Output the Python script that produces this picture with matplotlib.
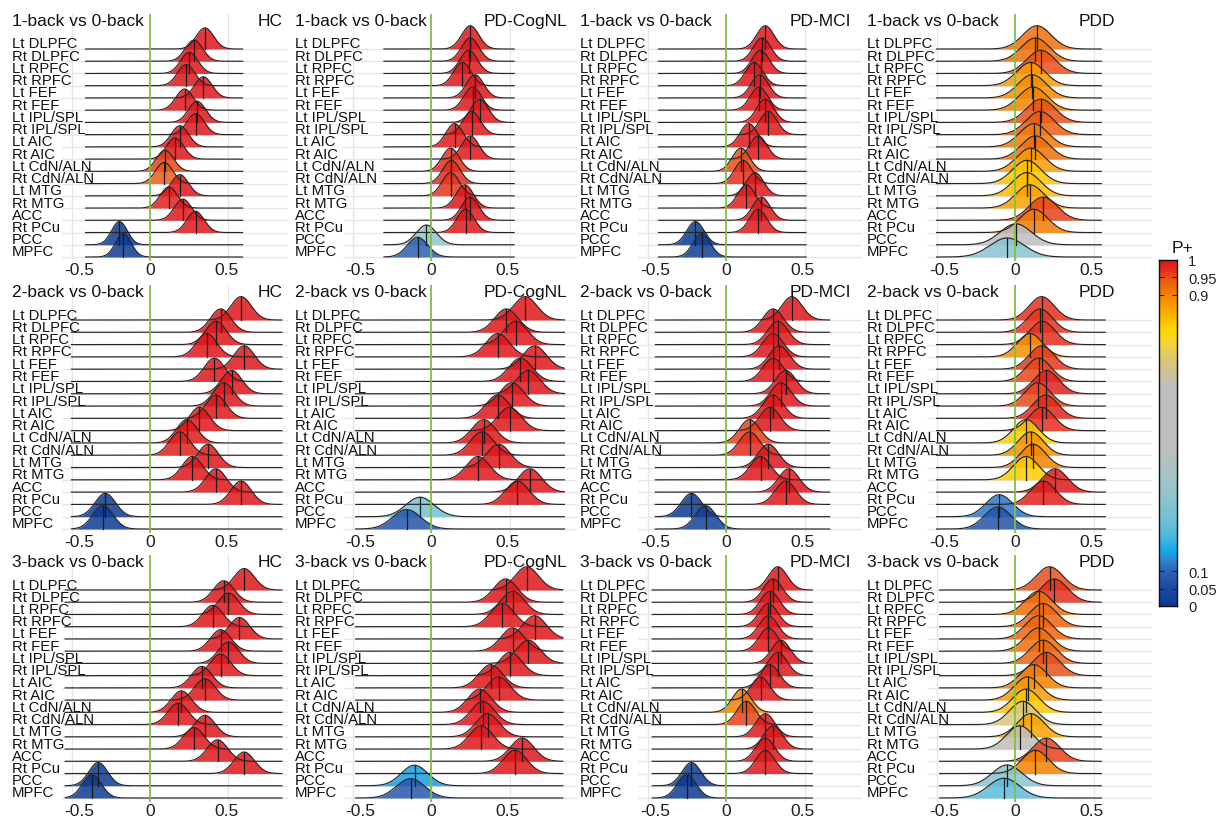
import numpy as np
import matplotlib
matplotlib.use("Agg")
import matplotlib.pyplot as plt
import matplotlib.transforms as mtrans
from matplotlib.colors import LinearSegmentedColormap

plt.rcParams['font.family'] = ['Liberation Sans', 'DejaVu Sans']
plt.rcParams['axes.unicode_minus'] = False

REGIONS = ["Lt DLPFC", "Rt DLPFC", "Lt RPFC", "Rt RPFC", "Lt FEF", "Rt FEF",
           "Lt IPL/SPL", "Rt IPL/SPL", "Lt AIC", "Rt AIC", "Lt CdN/ALN", "Rt CdN/ALN",
           "Lt MTG", "Rt MTG", "ACC", "Rt PCu", "PCC", "MPFC"]
GROUPS = ["HC", "PD-CogNL", "PD-MCI", "PDD"]
CONTRASTS = ["1-back vs 0-back", "2-back vs 0-back", "3-back vs 0-back"]

# posterior centre, spread and P(effect > 0) per region
MU_HC_1 = [0.35, 0.28, 0.25, 0.23, 0.34, 0.22, 0.30, 0.29, 0.19, 0.16, 0.095, 0.09, 0.19, 0.12, 0.21, 0.29, -0.195, -0.17]
SD_HC_1 = [0.055, 0.055, 0.055, 0.055, 0.055, 0.055, 0.055, 0.055, 0.055, 0.055, 0.055, 0.055, 0.055, 0.055, 0.055, 0.055, 0.05, 0.05]
P_HC_1 = [1, 1, 1, 1, 1, 1, 1, 1, 1, 0.999, 0.96, 0.94, 1, 0.985, 1, 1, 0, 0]

MU_COG_1 = [0.25, 0.25, 0.24, 0.20, 0.28, 0.265, 0.31, 0.26, 0.15, 0.25, 0.125, 0.13, 0.125, 0.215, 0.25, 0.22, -0.03, -0.085]
SD_COG_1 = [0.055, 0.055, 0.055, 0.055, 0.055, 0.055, 0.055, 0.055, 0.055, 0.055, 0.055, 0.055, 0.055, 0.055, 0.055, 0.055, 0.065, 0.065]
P_COG_1 = [1, 1, 1, 1, 1, 1, 1, 1, 0.995, 1, 0.97, 0.975, 0.965, 1, 1, 1, 0.33, 0.09]

MU_MCI_1 = [0.25, 0.23, 0.22, 0.18, 0.215, 0.21, 0.25, 0.27, 0.145, 0.205, 0.095, 0.11, 0.185, 0.13, 0.225, 0.205, -0.195, -0.155]
SD_MCI_1 = [0.055, 0.055, 0.055, 0.055, 0.055, 0.055, 0.055, 0.055, 0.055, 0.055, 0.055, 0.055, 0.055, 0.055, 0.055, 0.055, 0.055, 0.055]
P_MCI_1 = [1, 1, 1, 1, 1, 1, 1, 1, 0.995, 1, 0.95, 0.97, 1, 0.99, 1, 1, 0, 0.01]

MU_PDD_1 = [0.14, 0.13, 0.165, 0.10, 0.11, 0.115, 0.165, 0.16, 0.12, 0.13, 0.10, 0.075, 0.075, 0.095, 0.18, 0.12, 0.005, -0.05]
SD_PDD_1 = [0.09, 0.09, 0.09, 0.09, 0.09, 0.09, 0.09, 0.09, 0.09, 0.09, 0.09, 0.09, 0.09, 0.09, 0.09, 0.09, 0.10, 0.11]
P_PDD_1 = [0.92, 0.92, 0.95, 0.87, 0.89, 0.90, 0.95, 0.94, 0.91, 0.92, 0.87, 0.82, 0.83, 0.86, 0.96, 0.91, 0.52, 0.30]

MU_HC_2 = [0.58, 0.45, 0.42, 0.36, 0.60, 0.41, 0.52, 0.47, 0.42, 0.315, 0.235, 0.19, 0.37, 0.27, 0.42, 0.58, -0.285, -0.30]
SD_HC_2 = [0.065, 0.065, 0.065, 0.065, 0.065, 0.065, 0.065, 0.065, 0.065, 0.065, 0.065, 0.065, 0.065, 0.065, 0.065, 0.065, 0.065, 0.065]
P_HC_2 = [1, 1, 1, 1, 1, 1, 1, 1, 1, 1, 0.995, 0.985, 1, 1, 1, 1, 0, 0]

MU_COG_2 = [0.60, 0.48, 0.54, 0.425, 0.66, 0.57, 0.62, 0.515, 0.425, 0.50, 0.335, 0.325, 0.43, 0.30, 0.63, 0.55, -0.07, -0.155]
SD_COG_2 = [0.075, 0.075, 0.075, 0.075, 0.075, 0.075, 0.075, 0.075, 0.075, 0.075, 0.075, 0.075, 0.075, 0.075, 0.075, 0.075, 0.09, 0.09]
P_COG_2 = [1, 1, 1, 1, 1, 1, 1, 1, 1, 1, 1, 1, 1, 1, 1, 1, 0.25, 0.07]

MU_MCI_2 = [0.42, 0.30, 0.33, 0.30, 0.34, 0.30, 0.38, 0.35, 0.30, 0.28, 0.15, 0.15, 0.27, 0.22, 0.40, 0.38, -0.22, -0.13]
SD_MCI_2 = [0.065, 0.065, 0.065, 0.065, 0.065, 0.065, 0.065, 0.065, 0.065, 0.065, 0.065, 0.065, 0.065, 0.065, 0.065, 0.065, 0.065, 0.065]
P_MCI_2 = [1, 1, 1, 1, 1, 1, 1, 1, 1, 1, 0.96, 0.975, 1, 1, 1, 1, 0, 0.02]

MU_PDD_2 = [0.17, 0.16, 0.175, 0.095, 0.17, 0.15, 0.20, 0.145, 0.195, 0.17, 0.07, 0.10, 0.115, 0.07, 0.255, 0.18, -0.10, -0.11]
SD_PDD_2 = [0.08, 0.08, 0.08, 0.08, 0.08, 0.08, 0.08, 0.08, 0.08, 0.08, 0.08, 0.08, 0.08, 0.08, 0.08, 0.08, 0.085, 0.085]
P_PDD_2 = [0.97, 0.965, 0.97, 0.88, 0.965, 0.955, 0.985, 0.955, 0.98, 0.97, 0.81, 0.88, 0.90, 0.81, 0.995, 0.985, 0.12, 0.07]

MU_HC_3 = [0.60, 0.47, 0.50, 0.40, 0.57, 0.45, 0.50, 0.45, 0.33, 0.35, 0.20, 0.18, 0.35, 0.28, 0.43, 0.60, -0.33, -0.37]
SD_HC_3 = [0.065, 0.065, 0.065, 0.065, 0.065, 0.065, 0.065, 0.065, 0.065, 0.065, 0.065, 0.065, 0.065, 0.065, 0.065, 0.065, 0.06, 0.06]
P_HC_3 = [1, 1, 1, 1, 1, 1, 1, 1, 1, 1, 1, 1, 1, 1, 1, 1, 0, 0]

MU_COG_3 = [0.61, 0.475, 0.52, 0.455, 0.66, 0.52, 0.62, 0.505, 0.38, 0.43, 0.31, 0.33, 0.36, 0.32, 0.58, 0.535, -0.105, -0.13]
SD_COG_3 = [0.075, 0.075, 0.075, 0.075, 0.075, 0.075, 0.075, 0.075, 0.075, 0.075, 0.075, 0.075, 0.075, 0.075, 0.075, 0.075, 0.085, 0.09]
P_COG_3 = [1, 1, 1, 1, 1, 1, 1, 1, 1, 1, 1, 1, 1, 1, 1, 1, 0.15, 0.08]

MU_MCI_3 = [0.33, 0.30, 0.28, 0.27, 0.27, 0.27, 0.35, 0.33, 0.28, 0.22, 0.10, 0.13, 0.25, 0.30, 0.25, 0.25, -0.22, -0.25]
SD_MCI_3 = [0.06, 0.06, 0.06, 0.06, 0.06, 0.06, 0.06, 0.06, 0.06, 0.06, 0.06, 0.06, 0.06, 0.06, 0.06, 0.06, 0.06, 0.06]
P_MCI_3 = [1, 1, 1, 1, 1, 1, 1, 1, 1, 1, 0.90, 0.96, 1, 1, 1, 1, 0, 0]

MU_PDD_3 = [0.22, 0.25, 0.15, 0.18, 0.15, 0.15, 0.18, 0.20, 0.12, 0.08, 0.07, 0.05, 0.10, 0.03, 0.20, 0.13, -0.05, -0.07]
SD_PDD_3 = [0.085, 0.085, 0.085, 0.085, 0.085, 0.085, 0.085, 0.085, 0.085, 0.085, 0.085, 0.085, 0.085, 0.085, 0.085, 0.085, 0.095, 0.10]
P_PDD_3 = [0.95, 0.97, 0.92, 0.93, 0.93, 0.92, 0.93, 0.95, 0.90, 0.87, 0.82, 0.70, 0.86, 0.64, 0.96, 0.90, 0.30, 0.22]

# range of the posterior samples in each panel (rows = contrast, cols = group)
X_FROM = [[-0.41, -0.30, -0.43, -0.50],
          [-0.50, -0.48, -0.45, -0.50],
          [-0.54, -0.48, -0.47, -0.48]]
X_TO = [[0.59, 0.53, 0.51, 0.55],
        [0.84, 0.85, 0.66, 0.575],
        [0.84, 0.84, 0.55, 0.55]]

PANELS = [
    [(MU_HC_1, SD_HC_1, P_HC_1), (MU_COG_1, SD_COG_1, P_COG_1), (MU_MCI_1, SD_MCI_1, P_MCI_1), (MU_PDD_1, SD_PDD_1, P_PDD_1)],
    [(MU_HC_2, SD_HC_2, P_HC_2), (MU_COG_2, SD_COG_2, P_COG_2), (MU_MCI_2, SD_MCI_2, P_MCI_2), (MU_PDD_2, SD_PDD_2, P_PDD_2)],
    [(MU_HC_3, SD_HC_3, P_HC_3), (MU_COG_3, SD_COG_3, P_COG_3), (MU_MCI_3, SD_MCI_3, P_MCI_3), (MU_PDD_3, SD_PDD_3, P_PDD_3)],
]

# P+ colour scale
P_STOPS = [(0.0, '#0c3a92'), (0.055, '#1f4ea4'), (0.10, '#2d62b6'), (0.127, '#2f82d2'),
           (0.157, '#12a8e6'), (0.19, '#40b6e0'), (0.24, '#6ec0d6'), (0.31, '#8cc4cc'),
           (0.39, '#a9c4c6'), (0.445, '#bdbdbd'), (0.63, '#bebebe'), (0.667, '#ccc09c'),
           (0.716, '#dec870'), (0.765, '#f6d535'), (0.80, '#ffd700'), (0.85, '#fbab00'),
           (0.90, '#f48400'), (0.95, '#ea5418'), (0.975, '#e42a1c'), (1.0, '#de161a')]
PCMAP = LinearSegmentedColormap.from_list('pplus', P_STOPS)

W, H = 1222, 828
fig = plt.figure(figsize=(W / 100, H / 100), dpi=100)

ZERO_X = [150, 431, 726, 1015]
PX_PER_UNIT = 157
LABEL_X = [12, 295, 580, 867]
GROUP_RIGHT = [283, 567, 851, 1115]
PANEL_LEFT = [62, 343, 638, 927]
PANEL_RIGHT = [288, 577, 862, 1152]
FIRST_BASE = [50, 321, 591]
LAST_BASE = [258, 530, 799]
RIDGE_SCALE = 1.9
N = len(REGIONS)


def fx(px):
    return px / W


def fy(py):
    return 1 - py / H


def draw_panel(ax, mu, sd, pp, x_from, x_to):
    xs = np.linspace(x_from, x_to, 600)
    top_pdf = max(1 / (s * np.sqrt(2 * np.pi)) for s in sd)
    for i in range(N):
        base = N - 1 - i
        pdf = np.exp(-0.5 * ((xs - mu[i]) / sd[i]) ** 2) / (sd[i] * np.sqrt(2 * np.pi))
        h = pdf / top_pdf * RIDGE_SCALE
        ax.fill_between(xs, base, base + h, color=PCMAP(float(pp[i])), alpha=0.85, lw=0)
        ax.plot(xs, base + h, color='#262626', lw=0.85)
        hm = 1 / (sd[i] * np.sqrt(2 * np.pi)) / top_pdf * RIDGE_SCALE
        ax.plot([mu[i], mu[i]], [base, base + hm], color='#1a1a1a', lw=0.9)


for r in range(3):
    pitch = (LAST_BASE[r] - FIRST_BASE[r]) / (N - 1)
    top_px = FIRST_BASE[r] - 35
    bot_px = LAST_BASE[r] + 4
    for c in range(4):
        ax = fig.add_axes([fx(PANEL_LEFT[c]), fy(bot_px),
                           fx(PANEL_RIGHT[c] - PANEL_LEFT[c]), (bot_px - top_px) / H])
        ax.patch.set_alpha(0)
        x0 = (PANEL_LEFT[c] - ZERO_X[c]) / PX_PER_UNIT
        x1 = (PANEL_RIGHT[c] - ZERO_X[c]) / PX_PER_UNIT
        y0 = -(bot_px - LAST_BASE[r]) / pitch
        y1 = (N - 1) + (FIRST_BASE[r] - top_px) / pitch
        ax.set_xlim(x0, x1)
        ax.set_ylim(y0, y1)
        for s in ax.spines.values():
            s.set_visible(False)

        # background grid
        for gx in (-0.5, 0.5):
            ax.plot([gx, gx], [y0, y1], color='#e6e6e6', lw=1.0, zorder=0)
        ax.hlines(np.arange(N), x0, x1, color='#e6e6e6', lw=1.0, zorder=0)

        mu, sd, pp = PANELS[r][c]
        draw_panel(ax, mu, sd, pp, X_FROM[r][c], X_TO[r][c])
        ax.axvline(0, color='#7cc242', lw=1.3, zorder=10)

        ax.set_yticks([])
        ax.set_xticks([-0.5, 0, 0.5])
        ax.set_xticklabels(['-0.5', '0', '0.5'])
        ax.tick_params(axis='x', length=0, pad=1, labelsize=12.5, labelcolor='#1e1e1e')
        # outer labels sit a little inward of their grid lines
        for lab, dx in zip(ax.get_xticklabels(), (8, 0, -2)):
            lab.set_transform(lab.get_transform() +
                              mtrans.ScaledTranslation(dx / 100, 0, fig.dpi_scale_trans))

        for i, name in enumerate(REGIONS):
            fig.text(fx(LABEL_X[c]), fy(FIRST_BASE[r] + i * pitch - 1.5), name,
                     fontsize=10.7, color='#111111', ha='left', va='baseline')

        fig.text(fx(LABEL_X[c]), fy(FIRST_BASE[r] - 24), CONTRASTS[r],
                 fontsize=12.5, color='#111111', ha='left', va='baseline')
        fig.text(fx(GROUP_RIGHT[c]), fy(FIRST_BASE[r] - 24), GROUPS[c],
                 fontsize=12.5, color='#111111', ha='right', va='baseline')

# colour bar
cb_top, cb_bot = 261, 607
cax = fig.add_axes([fx(1159), fy(cb_bot), fx(18), (cb_bot - cb_top) / H])
grad = np.linspace(0, 1, 512)[:, None]
cax.imshow(grad, aspect='auto', cmap=PCMAP, origin='lower', extent=[0, 1, 0, 1])
cax.set_xticks([])
cax.set_yticks([0, 0.05, 0.1, 0.9, 0.95, 1])
cax.set_yticklabels(['0', '0.05', '0.1', '0.9', '0.95', '1'])
cax.yaxis.tick_right()
cax.tick_params(axis='y', direction='in', left=True, right=True, length=3.5, width=0.8,
                color='#222222', labelsize=10.5, pad=8, labelcolor='#222222')
for s in cax.spines.values():
    s.set_linewidth(1.0)
    s.set_color('#111111')
fig.text(fx(1172), fy(253), 'P+', fontsize=12.5, ha='left', va='baseline', color='#111111')

fig.savefig('out.png', dpi=100)
